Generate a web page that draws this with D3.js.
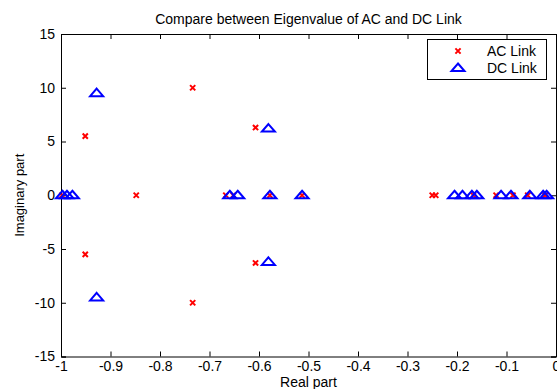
<!DOCTYPE html>
<html>
<head>
<meta charset="utf-8">
<script src="https://cdn.jsdelivr.net/npm/d3@7"></script>
<style>
  body { margin: 0; background: #fff; }
  svg text { font-family: "Liberation Sans", Arial, sans-serif; fill: #000; }
</style>
</head>
<body>
<script>
const W = 557;
const H = 389;

// eigenvalues
const acReal = [-0.951, -0.951, -0.734, -0.734, -0.607, -0.607, -0.848, -0.998, -0.667, -0.652,
    -0.578, -0.513, -0.250, -0.243, -0.167, -0.121, -0.087, -0.057, -0.022];
const acImag = [5.5, -5.5, 10, -10, 6.3, -6.3, 0, 0, 0, 0,
    0, 0, 0, 0, 0, 0, 0, 0, 0];
const dcReal = [-0.928, -0.928, -0.581, -0.581, -0.997, -0.988, -0.977, -0.659, -0.643, -0.578,
    -0.513, -0.205, -0.189, -0.170, -0.160, -0.111, -0.091, -0.053, -0.026, -0.019];
const dcImag = [9.5, -9.5, 6.2, -6.2, 0, 0, 0, 0, 0, 0,
    0, 0, 0, 0, 0, 0, 0, 0, 0, 0];
const xTicks = [-1, -0.9, -0.8, -0.7, -0.6, -0.5, -0.4, -0.3, -0.2, -0.1, 0];
const yTicks = [-15, -10, -5, 0, 5, 10, 15];
const seriesNames = ["AC Link", "DC Link"];

const mLeft = 61, mRight = 556, mTop = 34, mBottom = 356.5;

const svg = d3.select("body")
    .append("svg")
    .attr("width", W)
    .attr("height", H);

const x = d3.scaleLinear().domain([-1, 0]).range([mLeft, mRight]);
const y = d3.scaleLinear().domain([-15, 15]).range([mBottom, mTop]);

// axes, ticks point inward like matlab
const fmt = d => (d === 0 ? "0" : String(d));
const axB = svg.append("g")
    .attr("transform", `translate(0,${mBottom})`)
    .call(d3.axisBottom(x).tickValues(xTicks).tickSize(-5).tickPadding(5).tickFormat(fmt));
const axT = svg.append("g")
    .attr("transform", `translate(0,${mTop})`)
    .call(d3.axisTop(x).tickValues(xTicks).tickSize(-5).tickFormat(""));
const axL = svg.append("g")
    .attr("transform", `translate(${mLeft},0)`)
    .call(d3.axisLeft(y).tickValues(yTicks).tickSize(-5).tickPadding(6).tickFormat(fmt));
const axR = svg.append("g")
    .attr("transform", `translate(${mRight},0)`)
    .call(d3.axisRight(y).tickValues(yTicks).tickSize(-5).tickFormat(""));

[axB, axT, axL, axR].forEach(function (g) {
    g.select(".domain").attr("stroke", "#000").attr("stroke-width", 1);
    g.selectAll(".tick line").attr("stroke", "#000");
    g.selectAll("text").style("font-size", "14px").attr("fill", "#000");
});

// markers
const crossPath = "M-2.6,-2.6L2.6,2.6M-2.6,2.6L2.6,-2.6";
const triPath = "M0,-4.5L6.5,3L-6.5,3Z";

svg.append("g")
    .selectAll("path")
    .data(acReal.map((d, i) => [d, acImag[i]]))
    .join("path")
    .attr("transform", d => `translate(${x(d[0])},${y(d[1])})`)
    .attr("d", crossPath)
    .attr("stroke", "#ff0000")
    .attr("stroke-width", 2)
    .attr("fill", "none");

svg.append("g")
    .selectAll("path")
    .data(dcReal.map((d, i) => [d, dcImag[i]]))
    .join("path")
    .attr("transform", d => `translate(${x(d[0])},${y(d[1])})`)
    .attr("d", triPath)
    .attr("stroke", "#0000ff")
    .attr("stroke-width", 2)
    .attr("fill", "none");

// title and labels
svg.append("text")
    .attr("x", (mLeft + mRight) / 2)
    .attr("y", 24)
    .attr("text-anchor", "middle")
    .style("font-size", "14px")
    .text("Compare between Eigenvalue of AC and DC Link");

svg.append("text")
    .attr("x", (mLeft + mRight) / 2)
    .attr("y", 387)
    .attr("text-anchor", "middle")
    .style("font-size", "14px")
    .text("Real part");

svg.append("text")
    .attr("transform", `translate(24,${(mTop + mBottom) / 2}) rotate(-90)`)
    .attr("text-anchor", "middle")
    .style("font-size", "13px")
    .text("Imaginary part");

// legend
const leg = svg.append("g");
leg.append("rect")
    .attr("x", 427.5)
    .attr("y", 39.5)
    .attr("width", 119)
    .attr("height", 40)
    .attr("fill", "#fff")
    .attr("stroke", "#000");
leg.append("path")
    .attr("transform", "translate(458,51)")
    .attr("d", crossPath)
    .attr("stroke", "#ff0000")
    .attr("stroke-width", 2)
    .attr("fill", "none");
leg.append("path")
    .attr("transform", "translate(458,68)")
    .attr("d", triPath)
    .attr("stroke", "#0000ff")
    .attr("stroke-width", 2)
    .attr("fill", "none");
leg.selectAll("text.lab")
    .data(seriesNames)
    .join("text")
    .attr("class", "lab")
    .attr("x", 487)
    .attr("y", (d, i) => 56 + i * 17)
    .style("font-size", "14px")
    .text(d => d);
</script>
</body>
</html>
